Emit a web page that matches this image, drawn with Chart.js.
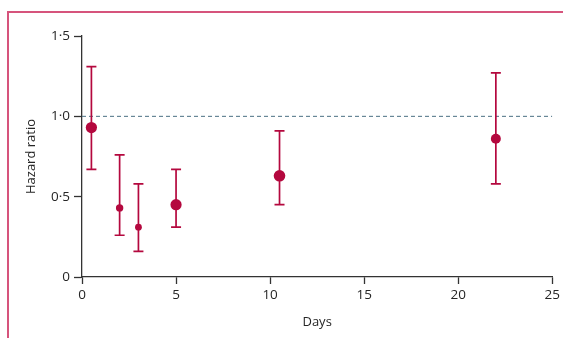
<!DOCTYPE html>
<html>
<head>
<meta charset="utf-8">
<script src="https://cdn.jsdelivr.net/npm/chart.js@4"></script>
<style>
  html, body { margin: 0; padding: 0; background: #fff; }
  #wrap { position: relative; width: 563px; height: 338px; overflow: hidden; background: #fff; }
  #frame { position: absolute; left: 7px; top: 11px; width: 600px; height: 400px;
           border-left: 2px solid rgb(214, 84, 124); border-top: 2px solid rgb(214, 84, 124); }
  canvas { position: absolute; left: 0; top: 0; }
</style>
</head>
<body>
<div id="wrap">
  <div id="frame"></div>
  <canvas id="c" width="563" height="338"></canvas>
</div>
<script>
// ---- data ----
const days        = [0.5, 2, 3, 5, 10.5, 22];
const hazardRatio = [0.93, 0.43, 0.31, 0.45, 0.63, 0.86];
const ciLower     = [0.67, 0.26, 0.16, 0.31, 0.45, 0.58];
const ciUpper     = [1.31, 0.76, 0.58, 0.67, 0.91, 1.27];
const xTicks      = [0, 5, 10, 15, 20, 25];
const yTicks      = [0, 0.5, 1.0, 1.5];
const referenceHR = 1.0;

// ---- styling ----
const markColor = '#b4083e';
const axisColor = '#333333';
const textColor = '#262626';
const pointRadii = [5.6, 3.7, 3.4, 5.6, 5.8, 5.0];
const FONT = "'Open Sans', 'Noto Sans', sans-serif";

const points = days.map((d, i) => ({ x: d, y: hazardRatio[i], lo: ciLower[i], hi: ciUpper[i] }));

const errorBars = {
  id: 'errorBars',
  beforeDatasetDraw(chart, args) {
    if (args.index !== 1) return;
    const { ctx, scales: { x, y } } = chart;
    ctx.save();
    ctx.strokeStyle = markColor;
    ctx.lineWidth = 1.7;
    points.forEach(p => {
      const px = x.getPixelForValue(p.x);
      const yl = y.getPixelForValue(p.lo);
      const yh = y.getPixelForValue(p.hi);
      ctx.beginPath();
      ctx.moveTo(px, yl); ctx.lineTo(px, yh);
      ctx.moveTo(px - 5, yl); ctx.lineTo(px + 5, yl);
      ctx.moveTo(px - 5, yh); ctx.lineTo(px + 5, yh);
      ctx.stroke();
    });
    ctx.restore();
  }
};

new Chart(document.getElementById('c'), {
  type: 'scatter',
  data: {
    datasets: [
      {
        type: 'line',
        data: [{ x: xTicks[0], y: referenceHR }, { x: xTicks[xTicks.length - 1], y: referenceHR }],
        borderColor: '#4a6f82',
        borderWidth: 1,
        borderDash: [4, 3],
        pointRadius: 0,
        order: 2
      },
      {
        data: points,
        backgroundColor: markColor,
        borderColor: markColor,
        borderWidth: 0,
        pointRadius: pointRadii,
        clip: false,
        order: 1
      }
    ]
  },
  plugins: [errorBars],
  options: {
    responsive: false,
    animation: false,
    devicePixelRatio: 1,
    layout: { padding: { left: 0, right: 8, top: 36, bottom: 0 } },
    plugins: { legend: { display: false }, tooltip: { enabled: false } },
    scales: {
      x: {
        type: 'linear',
        min: xTicks[0], max: xTicks[xTicks.length - 1],
        afterBuildTicks(s) { s.ticks = xTicks.map(v => ({ value: v })); },
        afterFit(s) { s.height = 61; },
        border: { color: axisColor, width: 1.3 },
        grid: { drawOnChartArea: false, drawTicks: true, tickLength: 7, color: axisColor, tickColor: axisColor, tickWidth: 1.3 },
        ticks: { color: textColor, font: { family: FONT, size: 13.5 }, padding: 3, callback: v => String(v) },
        title: { display: true, text: 'Days', color: textColor, font: { family: FONT, size: 13 }, padding: { top: 0, bottom: 8 } }
      },
      y: {
        type: 'linear',
        min: yTicks[0], max: yTicks[yTicks.length - 1],
        afterBuildTicks(s) { s.ticks = yTicks.map(v => ({ value: v })); },
        afterFit(s) { s.width = 82; },
        border: { color: axisColor, width: 1.3 },
        grid: { drawOnChartArea: false, drawTicks: true, tickLength: 8, color: axisColor, tickColor: axisColor, tickWidth: 1.3 },
        ticks: { color: textColor, font: { family: FONT, size: 13.5 }, padding: 4,
                 callback: v => v === 0 ? '0' : v.toFixed(1).replace('.', '·') },
        title: { display: true, text: 'Hazard ratio', color: textColor, font: { family: FONT, size: 13 }, padding: { top: 23, bottom: 0 } }
      }
    }
  }
});
</script>
</body>
</html>
